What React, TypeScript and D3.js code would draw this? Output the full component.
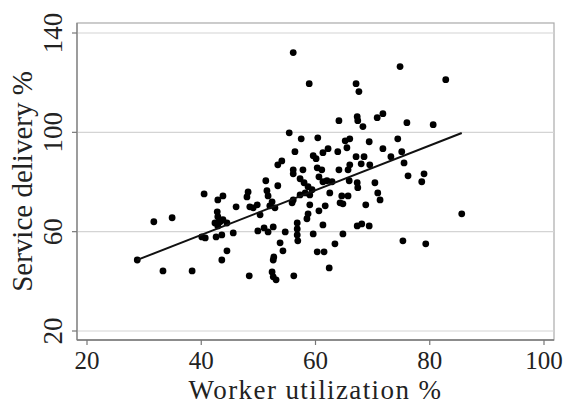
import { useEffect, useRef } from 'react'
import * as d3 from 'd3'

// worker utilization % (x) and service delivery % (y)
const utilization = [
  28.8, 31.7, 34.9, 33.3, 38.4, 40.1, 40.7, 40.5, 42.9, 43.8, 42.8, 42.9, 42.4, 43.3, 43.8, 44.5, 42.9,
  42.6, 43.6, 45.6, 44.5, 43.6, 46.1, 48.2, 48.0, 48.5, 49.8, 48.4, 49.9, 51.0, 51.7, 52.6, 50.3, 49.1,
  51.3, 51.5, 51.7, 53.4, 52.4, 52.0, 52.9, 57.3, 58.0, 58.7, 60.6, 61.3, 62.0, 65.9, 67.3, 67.4, 70.4,
  70.9, 71.3, 62.5, 64.6, 65.7, 64.3, 64.8, 56.1, 57.3, 58.2, 59.4, 59.0, 68.8, 55.9, 59.0, 61.7, 60.6,
  58.7, 58.5, 56.8, 61.3, 67.3, 68.1, 69.4, 54.7, 56.8, 56.8, 59.6, 64.8, 56.9, 53.8, 54.3, 63.4, 60.3,
  61.5, 52.7, 52.6, 62.4, 52.4, 52.6, 53.1, 56.2,
  55.4, 57.5, 60.4, 65.2, 66.0, 69.4, 74.4, 56.4, 59.6, 60.1, 62.2, 61.3, 63.9, 65.5, 71.8, 73.2, 75.1,
  75.5, 67.1, 68.5, 54.1, 53.4, 56.1, 56.1, 57.8, 60.3, 61.1, 64.1, 66.0, 65.7, 68.0, 69.5, 76.2, 79.0,
  78.6, 67.6, 67.1, 64.1, 67.3, 67.4, 68.3, 70.8, 71.8, 76.0, 80.6, 58.9, 56.1, 74.8, 82.8, 75.3, 79.3,
  85.6, 62.9,
]
const delivery = [
  48.6, 64.0, 65.6, 44.2, 44.2, 57.9, 57.5, 75.2, 72.8, 74.4, 68.0, 66.0, 63.5, 64.0, 64.8, 63.5, 62.3,
  57.9, 58.7, 59.5, 52.3, 48.6, 70.0, 76.0, 74.0, 70.0, 70.8, 42.2, 60.3, 61.5, 59.9, 61.9, 66.8, 69.6,
  80.5, 76.5, 74.4, 78.5, 72.0, 70.4, 69.6, 81.3, 79.7, 78.1, 82.1, 80.1, 80.5, 80.5, 79.7, 77.7, 79.7,
  75.6, 72.8, 75.6, 74.4, 74.4, 71.6, 71.2, 72.8, 74.8, 75.6, 76.9, 74.8, 70.8, 71.6, 70.8, 70.4, 68.4,
  67.2, 65.2, 63.5, 62.7, 62.3, 63.1, 62.3, 59.9, 61.1, 58.7, 59.1, 59.1, 56.3, 55.5, 52.3, 55.1, 51.9,
  51.9, 49.8, 48.6, 45.4, 43.8, 41.8, 40.6, 42.2,
  99.8, 97.4, 97.8, 96.6, 97.4, 96.2, 97.4, 92.2, 90.6, 89.4, 93.4, 91.8, 92.2, 93.8, 93.4, 90.2, 92.2,
  87.7, 90.2, 90.2, 88.5, 86.9, 84.9, 83.3, 84.9, 85.7, 84.9, 84.9, 86.9, 84.9, 87.3, 86.9, 82.5, 83.3,
  80.1, 116.4, 119.6, 104.7, 106.3, 104.7, 102.3, 105.9, 107.5, 103.9, 103.1, 119.6, 132.1, 126.5, 121.2, 56.3, 55.1,
  67.2, 80.1,
]
const fitIntercept = 22.7
const fitSlope = 0.9

const xTicks = [20, 40, 60, 80, 100]
const yTicks = [20, 60, 100, 140]
const xTitle = 'Worker utilization %'
const yTitle = 'Service delivery %'

export default function App() {
  const ref = useRef<SVGSVGElement | null>(null)

  useEffect(() => {
    if (!ref.current) return
    const width = 569, height = 405
    const frame = { left: 77, right: 554, top: 23, bottom: 340 }
    const font = "'Liberation Serif', 'Times New Roman', serif"
    const svg = d3.select(ref.current)
      .attr('width', width).attr('height', height)
      .attr('viewBox', `0 0 ${width} ${height}`)
    svg.selectAll('*').remove()

    const x = d3.scaleLinear().domain([20, 100]).range([87, 544])
    const y = d3.scaleLinear().domain([20, 140]).range([331, 33])

    svg.append('rect').attr('width', width).attr('height', height).attr('fill', '#fff')

    // frame
    svg.append('rect')
      .attr('x', frame.left).attr('y', frame.top)
      .attr('width', frame.right - frame.left).attr('height', frame.bottom - frame.top)
      .attr('fill', 'none').attr('stroke', '#aaa').attr('stroke-width', 1.2)

    // gridlines
    svg.append('g').selectAll('line').data(yTicks).enter().append('line')
      .attr('x1', frame.left).attr('x2', frame.right)
      .attr('y1', d => y(d)).attr('y2', d => y(d))
      .attr('stroke', '#d4d4d4').attr('stroke-width', 1.2)

    // axes lines
    svg.append('line').attr('x1', frame.left).attr('x2', frame.left)
      .attr('y1', frame.top).attr('y2', frame.bottom).attr('stroke', '#888').attr('stroke-width', 1.4)
    svg.append('line').attr('x1', frame.left).attr('x2', frame.right)
      .attr('y1', frame.bottom).attr('y2', frame.bottom).attr('stroke', '#777').attr('stroke-width', 1.6)

    // y ticks + labels
    const yg = svg.append('g')
    yg.selectAll('line').data(yTicks).enter().append('line')
      .attr('x1', frame.left - 5).attr('x2', frame.left)
      .attr('y1', d => y(d)).attr('y2', d => y(d))
      .attr('stroke', '#777').attr('stroke-width', 1.2)
    yg.selectAll('text').data(yTicks).enter().append('text')
      .attr('transform', d => `translate(62,${y(d)}) rotate(-90)`)
      .attr('text-anchor', 'middle')
      .attr('font-family', font).attr('font-size', 27).attr('fill', '#222')
      .text(d => d)

    // x ticks + labels
    const xg = svg.append('g')
    xg.selectAll('line').data(xTicks).enter().append('line')
      .attr('x1', d => x(d)).attr('x2', d => x(d))
      .attr('y1', frame.bottom).attr('y2', frame.bottom + 5)
      .attr('stroke', '#777').attr('stroke-width', 1.2)
    xg.selectAll('text').data(xTicks).enter().append('text')
      .attr('x', d => x(d)).attr('y', 369)
      .attr('text-anchor', 'middle')
      .attr('font-family', font).attr('font-size', 25).attr('fill', '#222')
      .text(d => d)

    // titles
    svg.append('text')
      .attr('x', (frame.left + frame.right) / 2).attr('y', 398.5)
      .attr('text-anchor', 'middle')
      .attr('font-family', font).attr('font-size', 27).attr('letter-spacing', 1.4).attr('fill', '#222')
      .text(xTitle)
    svg.append('text')
      .attr('transform', `translate(32,${(frame.top + frame.bottom) / 2}) rotate(-90)`)
      .attr('text-anchor', 'middle')
      .attr('font-family', font).attr('font-size', 29).attr('fill', '#222')
      .text(yTitle)

    // points
    const pts = utilization.map((u, i) => ({ u, d: delivery[i] }))
    svg.append('g').selectAll('circle').data(pts).enter().append('circle')
      .attr('cx', p => x(p.u)).attr('cy', p => y(p.d))
      .attr('r', 3.4).attr('fill', '#000')

    // fitted line over data range
    const [xmin, xmax] = d3.extent(utilization) as [number, number]
    const line = d3.line<number>().x(v => x(v)).y(v => y(fitIntercept + fitSlope * v))
    svg.append('path').attr('d', line([xmin, xmax]))
      .attr('fill', 'none').attr('stroke', '#111').attr('stroke-width', 2)
  }, [])

  return <svg ref={ref} style={{ position: 'absolute', left: 0, top: 0, display: 'block' }} />
}
